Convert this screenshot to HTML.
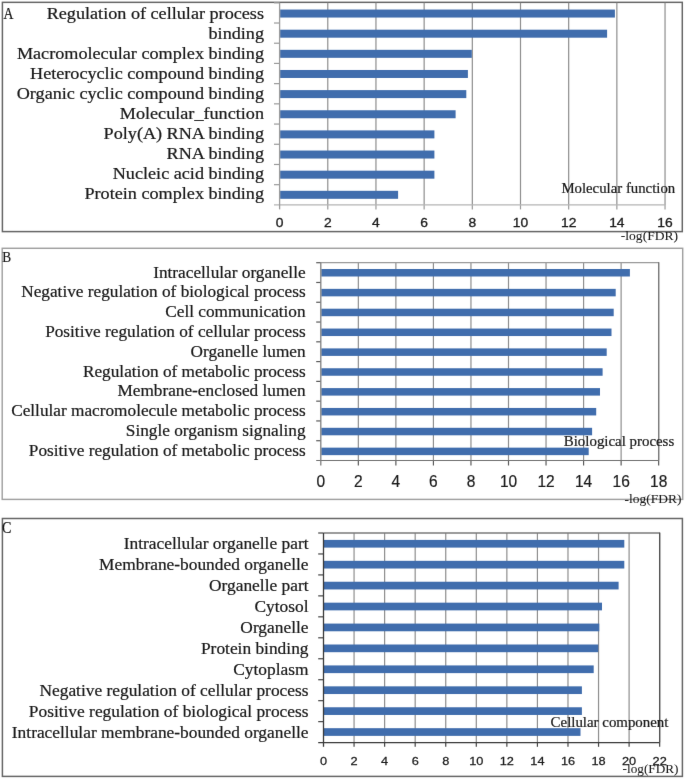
<!DOCTYPE html>
<html><head><meta charset="utf-8"><style>
html,body{margin:0;padding:0;background:#fff;}
svg{display:block;}
.s{font-family:"Liberation Serif",serif;fill:#1a1a1a;stroke:#1a1a1a;stroke-width:0.22px;}
.n{font-family:"Liberation Sans",sans-serif;fill:#1a1a1a;stroke:#1a1a1a;}
</style></head><body>
<svg width="685" height="779" viewBox="0 0 685 779">
<defs><filter id="bl" filterUnits="userSpaceOnUse" x="0" y="0" width="685" height="779" color-interpolation-filters="sRGB"><feConvolveMatrix order="3" kernelMatrix="0.00276 0.04704 0.00276 0.04704 0.80077 0.04704 0.00276 0.04704 0.00276" edgeMode="none"/></filter></defs>
<g filter="url(#bl)">
<rect width="685" height="779" fill="#fff"/>
<rect x="2.4" y="2.35" width="679.9" height="229.25" fill="none" stroke="#666666" stroke-width="1.5"/>
<line x1="327.78" y1="2.8" x2="327.78" y2="204.9" stroke="#8e8e8e" stroke-width="1.2"/>
<line x1="327.78" y1="204.9" x2="327.78" y2="209.4" stroke="#9a9a9a" stroke-width="1.2"/>
<line x1="375.96" y1="2.8" x2="375.96" y2="204.9" stroke="#8e8e8e" stroke-width="1.2"/>
<line x1="375.96" y1="204.9" x2="375.96" y2="209.4" stroke="#9a9a9a" stroke-width="1.2"/>
<line x1="424.14" y1="2.8" x2="424.14" y2="204.9" stroke="#8e8e8e" stroke-width="1.2"/>
<line x1="424.14" y1="204.9" x2="424.14" y2="209.4" stroke="#9a9a9a" stroke-width="1.2"/>
<line x1="472.32" y1="2.8" x2="472.32" y2="204.9" stroke="#8e8e8e" stroke-width="1.2"/>
<line x1="472.32" y1="204.9" x2="472.32" y2="209.4" stroke="#9a9a9a" stroke-width="1.2"/>
<line x1="520.5" y1="2.8" x2="520.5" y2="204.9" stroke="#8e8e8e" stroke-width="1.2"/>
<line x1="520.5" y1="204.9" x2="520.5" y2="209.4" stroke="#9a9a9a" stroke-width="1.2"/>
<line x1="568.68" y1="2.8" x2="568.68" y2="204.9" stroke="#8e8e8e" stroke-width="1.2"/>
<line x1="568.68" y1="204.9" x2="568.68" y2="209.4" stroke="#9a9a9a" stroke-width="1.2"/>
<line x1="616.86" y1="2.8" x2="616.86" y2="204.9" stroke="#8e8e8e" stroke-width="1.2"/>
<line x1="616.86" y1="204.9" x2="616.86" y2="209.4" stroke="#9a9a9a" stroke-width="1.2"/>
<line x1="665.04" y1="2.8" x2="665.04" y2="204.9" stroke="#8e8e8e" stroke-width="1.2"/>
<line x1="665.04" y1="204.9" x2="665.04" y2="209.4" stroke="#9a9a9a" stroke-width="1.2"/>
<line x1="274" y1="204.9" x2="665.04" y2="204.9" stroke="#b4b4b4" stroke-width="1.2"/>
<line x1="274" y1="2.8" x2="279.6" y2="2.8" stroke="#9a9a9a" stroke-width="1.2"/>
<line x1="274" y1="23.01" x2="279.6" y2="23.01" stroke="#9a9a9a" stroke-width="1.2"/>
<line x1="274" y1="43.22" x2="279.6" y2="43.22" stroke="#9a9a9a" stroke-width="1.2"/>
<line x1="274" y1="63.43" x2="279.6" y2="63.43" stroke="#9a9a9a" stroke-width="1.2"/>
<line x1="274" y1="83.64" x2="279.6" y2="83.64" stroke="#9a9a9a" stroke-width="1.2"/>
<line x1="274" y1="103.85" x2="279.6" y2="103.85" stroke="#9a9a9a" stroke-width="1.2"/>
<line x1="274" y1="124.06" x2="279.6" y2="124.06" stroke="#9a9a9a" stroke-width="1.2"/>
<line x1="274" y1="144.27" x2="279.6" y2="144.27" stroke="#9a9a9a" stroke-width="1.2"/>
<line x1="274" y1="164.48" x2="279.6" y2="164.48" stroke="#9a9a9a" stroke-width="1.2"/>
<line x1="274" y1="184.69" x2="279.6" y2="184.69" stroke="#9a9a9a" stroke-width="1.2"/>
<rect x="280.1" y="9.55" width="334.8" height="8" fill="#406DAD"/>
<rect x="280.1" y="29.69" width="327" height="8" fill="#406DAD"/>
<rect x="280.1" y="49.83" width="191.7" height="8" fill="#406DAD"/>
<rect x="280.1" y="69.97" width="187.8" height="8" fill="#406DAD"/>
<rect x="280.1" y="90.11" width="186.2" height="8" fill="#406DAD"/>
<rect x="280.1" y="110.25" width="175.5" height="8" fill="#406DAD"/>
<rect x="280.1" y="130.39" width="154.3" height="8" fill="#406DAD"/>
<rect x="280.1" y="150.53" width="154.3" height="8" fill="#406DAD"/>
<rect x="280.1" y="170.67" width="154.3" height="8" fill="#406DAD"/>
<rect x="280.1" y="190.81" width="118" height="8" fill="#406DAD"/>
<line x1="279.6" y1="2.8" x2="279.6" y2="209.4" stroke="#9c9c9c" stroke-width="1.3"/>
<text transform="translate(264,18.6) scale(1.1355,1)" text-anchor="end" class="s" font-size="16">Regulation of cellular process</text>
<text transform="translate(264,38.68) scale(1.1355,1)" text-anchor="end" class="s" font-size="16">binding</text>
<text transform="translate(264,58.76) scale(1.1355,1)" text-anchor="end" class="s" font-size="16">Macromolecular complex binding</text>
<text transform="translate(264,78.84) scale(1.1355,1)" text-anchor="end" class="s" font-size="16">Heterocyclic compound binding</text>
<text transform="translate(264,98.92) scale(1.1355,1)" text-anchor="end" class="s" font-size="16">Organic cyclic compound binding</text>
<text transform="translate(264,119) scale(1.1355,1)" text-anchor="end" class="s" font-size="16">Molecular_function</text>
<text transform="translate(264,139.08) scale(1.1355,1)" text-anchor="end" class="s" font-size="16">Poly(A) RNA binding</text>
<text transform="translate(264,159.16) scale(1.1355,1)" text-anchor="end" class="s" font-size="16">RNA binding</text>
<text transform="translate(264,179.24) scale(1.1355,1)" text-anchor="end" class="s" font-size="16">Nucleic acid binding</text>
<text transform="translate(264,199.32) scale(1.1355,1)" text-anchor="end" class="s" font-size="16">Protein complex binding</text>
<text transform="translate(279.6,227.2) scale(1.1,1)" text-anchor="middle" class="n" font-size="12.6" stroke-width="0.3">0</text>
<text transform="translate(327.78,227.2) scale(1.1,1)" text-anchor="middle" class="n" font-size="12.6" stroke-width="0.3">2</text>
<text transform="translate(375.96,227.2) scale(1.1,1)" text-anchor="middle" class="n" font-size="12.6" stroke-width="0.3">4</text>
<text transform="translate(424.14,227.2) scale(1.1,1)" text-anchor="middle" class="n" font-size="12.6" stroke-width="0.3">6</text>
<text transform="translate(472.32,227.2) scale(1.1,1)" text-anchor="middle" class="n" font-size="12.6" stroke-width="0.3">8</text>
<text transform="translate(520.5,227.2) scale(1.1,1)" text-anchor="middle" class="n" font-size="12.6" stroke-width="0.3">10</text>
<text transform="translate(568.68,227.2) scale(1.1,1)" text-anchor="middle" class="n" font-size="12.6" stroke-width="0.3">12</text>
<text transform="translate(616.86,227.2) scale(1.1,1)" text-anchor="middle" class="n" font-size="12.6" stroke-width="0.3">14</text>
<text transform="translate(665.04,227.2) scale(1.1,1)" text-anchor="middle" class="n" font-size="12.6" stroke-width="0.3">16</text>
<text x="561.4" y="192.6" class="s" font-size="14.8">Molecular function</text>
<text transform="translate(620.8,239.8) scale(1.13,1)" class="s" font-size="12" style="stroke-width:0.06px">-log(FDR)</text>
<text transform="translate(3.4,18.6) scale(0.86,1)" class="s" font-size="16" stroke="#1a1a1a" stroke-width="0.25">A</text>
<rect x="2.2" y="248.3" width="680.5" height="251.1" fill="none" stroke="#a0a0a0" stroke-width="1.45"/>
<line x1="358.34" y1="262.7" x2="358.34" y2="460.5" stroke="#8e8e8e" stroke-width="1.2"/>
<line x1="358.34" y1="460.5" x2="358.34" y2="465.5" stroke="#5a5a5a" stroke-width="1.2"/>
<line x1="395.88" y1="262.7" x2="395.88" y2="460.5" stroke="#8e8e8e" stroke-width="1.2"/>
<line x1="395.88" y1="460.5" x2="395.88" y2="465.5" stroke="#5a5a5a" stroke-width="1.2"/>
<line x1="433.42" y1="262.7" x2="433.42" y2="460.5" stroke="#8e8e8e" stroke-width="1.2"/>
<line x1="433.42" y1="460.5" x2="433.42" y2="465.5" stroke="#5a5a5a" stroke-width="1.2"/>
<line x1="470.96" y1="262.7" x2="470.96" y2="460.5" stroke="#8e8e8e" stroke-width="1.2"/>
<line x1="470.96" y1="460.5" x2="470.96" y2="465.5" stroke="#5a5a5a" stroke-width="1.2"/>
<line x1="508.5" y1="262.7" x2="508.5" y2="460.5" stroke="#8e8e8e" stroke-width="1.2"/>
<line x1="508.5" y1="460.5" x2="508.5" y2="465.5" stroke="#5a5a5a" stroke-width="1.2"/>
<line x1="546.04" y1="262.7" x2="546.04" y2="460.5" stroke="#8e8e8e" stroke-width="1.2"/>
<line x1="546.04" y1="460.5" x2="546.04" y2="465.5" stroke="#5a5a5a" stroke-width="1.2"/>
<line x1="583.58" y1="262.7" x2="583.58" y2="460.5" stroke="#8e8e8e" stroke-width="1.2"/>
<line x1="583.58" y1="460.5" x2="583.58" y2="465.5" stroke="#5a5a5a" stroke-width="1.2"/>
<line x1="621.12" y1="262.7" x2="621.12" y2="460.5" stroke="#8e8e8e" stroke-width="1.2"/>
<line x1="621.12" y1="460.5" x2="621.12" y2="465.5" stroke="#5a5a5a" stroke-width="1.2"/>
<line x1="658.66" y1="262.7" x2="658.66" y2="460.5" stroke="#8e8e8e" stroke-width="1.2"/>
<line x1="658.66" y1="460.5" x2="658.66" y2="465.5" stroke="#5a5a5a" stroke-width="1.2"/>
<line x1="320.8" y1="262.7" x2="658.66" y2="262.7" stroke="#9a9a9a" stroke-width="1.3"/>
<line x1="658.66" y1="262.1" x2="658.66" y2="460.5" stroke="#7a7a7a" stroke-width="1.3"/>
<line x1="316.2" y1="460.5" x2="658.66" y2="460.5" stroke="#707070" stroke-width="1.2"/>
<line x1="316.2" y1="262.7" x2="320.8" y2="262.7" stroke="#5a5a5a" stroke-width="1.2"/>
<line x1="316.2" y1="282.48" x2="320.8" y2="282.48" stroke="#5a5a5a" stroke-width="1.2"/>
<line x1="316.2" y1="302.26" x2="320.8" y2="302.26" stroke="#5a5a5a" stroke-width="1.2"/>
<line x1="316.2" y1="322.04" x2="320.8" y2="322.04" stroke="#5a5a5a" stroke-width="1.2"/>
<line x1="316.2" y1="341.82" x2="320.8" y2="341.82" stroke="#5a5a5a" stroke-width="1.2"/>
<line x1="316.2" y1="361.6" x2="320.8" y2="361.6" stroke="#5a5a5a" stroke-width="1.2"/>
<line x1="316.2" y1="381.38" x2="320.8" y2="381.38" stroke="#5a5a5a" stroke-width="1.2"/>
<line x1="316.2" y1="401.16" x2="320.8" y2="401.16" stroke="#5a5a5a" stroke-width="1.2"/>
<line x1="316.2" y1="420.94" x2="320.8" y2="420.94" stroke="#5a5a5a" stroke-width="1.2"/>
<line x1="316.2" y1="440.72" x2="320.8" y2="440.72" stroke="#5a5a5a" stroke-width="1.2"/>
<rect x="321.3" y="269" width="308.6" height="7.5" fill="#406DAD"/>
<rect x="321.3" y="288.85" width="294.4" height="7.5" fill="#406DAD"/>
<rect x="321.3" y="308.7" width="292.4" height="7.5" fill="#406DAD"/>
<rect x="321.3" y="328.55" width="290.2" height="7.5" fill="#406DAD"/>
<rect x="321.3" y="348.4" width="285.4" height="7.5" fill="#406DAD"/>
<rect x="321.3" y="368.25" width="281.3" height="7.5" fill="#406DAD"/>
<rect x="321.3" y="388.1" width="278.7" height="7.5" fill="#406DAD"/>
<rect x="321.3" y="407.95" width="274.9" height="7.5" fill="#406DAD"/>
<rect x="321.3" y="427.8" width="270.8" height="7.5" fill="#406DAD"/>
<rect x="321.3" y="447.65" width="267.4" height="7.5" fill="#406DAD"/>
<line x1="320.8" y1="262.7" x2="320.8" y2="465.5" stroke="#7e7e7e" stroke-width="1.3"/>
<text transform="translate(305.6,277.7) scale(1.0785,1)" text-anchor="end" class="s" font-size="16">Intracellular organelle</text>
<text transform="translate(305.6,297.46) scale(1.0785,1)" text-anchor="end" class="s" font-size="16">Negative regulation of biological process</text>
<text transform="translate(305.6,317.22) scale(1.0785,1)" text-anchor="end" class="s" font-size="16">Cell communication</text>
<text transform="translate(305.6,336.98) scale(1.0785,1)" text-anchor="end" class="s" font-size="16">Positive regulation of cellular process</text>
<text transform="translate(305.6,356.74) scale(1.0785,1)" text-anchor="end" class="s" font-size="16">Organelle lumen</text>
<text transform="translate(305.6,376.5) scale(1.0785,1)" text-anchor="end" class="s" font-size="16">Regulation of metabolic process</text>
<text transform="translate(305.6,396.26) scale(1.0785,1)" text-anchor="end" class="s" font-size="16">Membrane-enclosed lumen</text>
<text transform="translate(305.6,416.02) scale(1.0785,1)" text-anchor="end" class="s" font-size="16">Cellular macromolecule metabolic process</text>
<text transform="translate(305.6,435.78) scale(1.0785,1)" text-anchor="end" class="s" font-size="16">Single organism signaling</text>
<text transform="translate(305.6,455.54) scale(1.0785,1)" text-anchor="end" class="s" font-size="16">Positive regulation of metabolic process</text>
<text transform="translate(320.8,486.5) scale(0.975,1)" text-anchor="middle" class="n" font-size="15.9" stroke-width="0.2">0</text>
<text transform="translate(358.34,486.5) scale(0.975,1)" text-anchor="middle" class="n" font-size="15.9" stroke-width="0.2">2</text>
<text transform="translate(395.88,486.5) scale(0.975,1)" text-anchor="middle" class="n" font-size="15.9" stroke-width="0.2">4</text>
<text transform="translate(433.42,486.5) scale(0.975,1)" text-anchor="middle" class="n" font-size="15.9" stroke-width="0.2">6</text>
<text transform="translate(470.96,486.5) scale(0.975,1)" text-anchor="middle" class="n" font-size="15.9" stroke-width="0.2">8</text>
<text transform="translate(508.5,486.5) scale(0.975,1)" text-anchor="middle" class="n" font-size="15.9" stroke-width="0.2">10</text>
<text transform="translate(546.04,486.5) scale(0.975,1)" text-anchor="middle" class="n" font-size="15.9" stroke-width="0.2">12</text>
<text transform="translate(583.58,486.5) scale(0.975,1)" text-anchor="middle" class="n" font-size="15.9" stroke-width="0.2">14</text>
<text transform="translate(621.12,486.5) scale(0.975,1)" text-anchor="middle" class="n" font-size="15.9" stroke-width="0.2">16</text>
<text transform="translate(658.66,486.5) scale(0.975,1)" text-anchor="middle" class="n" font-size="15.9" stroke-width="0.2">18</text>
<text x="563.8" y="445.7" class="s" font-size="14.9">Biological process</text>
<text transform="translate(624.6,502.8) scale(1.035,1)" class="s" font-size="13" style="stroke-width:0.06px">-log(FDR)</text>
<text transform="translate(2.3,262) scale(0.86,1)" class="s" font-size="15.5" stroke="#1a1a1a" stroke-width="0.25">B</text>
<rect x="2.4" y="518.5" width="680" height="257.9" fill="none" stroke="#666666" stroke-width="1.5"/>
<line x1="354.06" y1="533" x2="354.06" y2="742.6" stroke="#8e8e8e" stroke-width="1.2"/>
<line x1="354.06" y1="742.6" x2="354.06" y2="746.8" stroke="#444444" stroke-width="1.2"/>
<line x1="384.62" y1="533" x2="384.62" y2="742.6" stroke="#8e8e8e" stroke-width="1.2"/>
<line x1="384.62" y1="742.6" x2="384.62" y2="746.8" stroke="#444444" stroke-width="1.2"/>
<line x1="415.18" y1="533" x2="415.18" y2="742.6" stroke="#8e8e8e" stroke-width="1.2"/>
<line x1="415.18" y1="742.6" x2="415.18" y2="746.8" stroke="#444444" stroke-width="1.2"/>
<line x1="445.74" y1="533" x2="445.74" y2="742.6" stroke="#8e8e8e" stroke-width="1.2"/>
<line x1="445.74" y1="742.6" x2="445.74" y2="746.8" stroke="#444444" stroke-width="1.2"/>
<line x1="476.3" y1="533" x2="476.3" y2="742.6" stroke="#8e8e8e" stroke-width="1.2"/>
<line x1="476.3" y1="742.6" x2="476.3" y2="746.8" stroke="#444444" stroke-width="1.2"/>
<line x1="506.86" y1="533" x2="506.86" y2="742.6" stroke="#8e8e8e" stroke-width="1.2"/>
<line x1="506.86" y1="742.6" x2="506.86" y2="746.8" stroke="#444444" stroke-width="1.2"/>
<line x1="537.42" y1="533" x2="537.42" y2="742.6" stroke="#8e8e8e" stroke-width="1.2"/>
<line x1="537.42" y1="742.6" x2="537.42" y2="746.8" stroke="#444444" stroke-width="1.2"/>
<line x1="567.98" y1="533" x2="567.98" y2="742.6" stroke="#8e8e8e" stroke-width="1.2"/>
<line x1="567.98" y1="742.6" x2="567.98" y2="746.8" stroke="#444444" stroke-width="1.2"/>
<line x1="598.54" y1="533" x2="598.54" y2="742.6" stroke="#8e8e8e" stroke-width="1.2"/>
<line x1="598.54" y1="742.6" x2="598.54" y2="746.8" stroke="#444444" stroke-width="1.2"/>
<line x1="629.1" y1="533" x2="629.1" y2="742.6" stroke="#8e8e8e" stroke-width="1.2"/>
<line x1="629.1" y1="742.6" x2="629.1" y2="746.8" stroke="#444444" stroke-width="1.2"/>
<line x1="659.66" y1="533" x2="659.66" y2="742.6" stroke="#8e8e8e" stroke-width="1.2"/>
<line x1="659.66" y1="742.6" x2="659.66" y2="746.8" stroke="#444444" stroke-width="1.2"/>
<line x1="323.5" y1="533" x2="659.66" y2="533" stroke="#7a7a7a" stroke-width="1.3"/>
<line x1="659.66" y1="532.4" x2="659.66" y2="742.6" stroke="#505050" stroke-width="1.3"/>
<line x1="318.2" y1="742.6" x2="659.66" y2="742.6" stroke="#3a3a3a" stroke-width="1.2"/>
<line x1="318.2" y1="533" x2="323.5" y2="533" stroke="#444444" stroke-width="1.2"/>
<line x1="318.2" y1="553.96" x2="323.5" y2="553.96" stroke="#444444" stroke-width="1.2"/>
<line x1="318.2" y1="574.92" x2="323.5" y2="574.92" stroke="#444444" stroke-width="1.2"/>
<line x1="318.2" y1="595.88" x2="323.5" y2="595.88" stroke="#444444" stroke-width="1.2"/>
<line x1="318.2" y1="616.84" x2="323.5" y2="616.84" stroke="#444444" stroke-width="1.2"/>
<line x1="318.2" y1="637.8" x2="323.5" y2="637.8" stroke="#444444" stroke-width="1.2"/>
<line x1="318.2" y1="658.76" x2="323.5" y2="658.76" stroke="#444444" stroke-width="1.2"/>
<line x1="318.2" y1="679.72" x2="323.5" y2="679.72" stroke="#444444" stroke-width="1.2"/>
<line x1="318.2" y1="700.68" x2="323.5" y2="700.68" stroke="#444444" stroke-width="1.2"/>
<line x1="318.2" y1="721.64" x2="323.5" y2="721.64" stroke="#444444" stroke-width="1.2"/>
<rect x="324" y="539.9" width="300.3" height="7.7" fill="#406DAD"/>
<rect x="324" y="560.82" width="300.3" height="7.7" fill="#406DAD"/>
<rect x="324" y="581.74" width="294.6" height="7.7" fill="#406DAD"/>
<rect x="324" y="602.66" width="278" height="7.7" fill="#406DAD"/>
<rect x="324" y="623.58" width="275.3" height="7.7" fill="#406DAD"/>
<rect x="324" y="644.5" width="274.2" height="7.7" fill="#406DAD"/>
<rect x="324" y="665.42" width="269.7" height="7.7" fill="#406DAD"/>
<rect x="324" y="686.34" width="257.9" height="7.7" fill="#406DAD"/>
<rect x="324" y="707.26" width="257.9" height="7.7" fill="#406DAD"/>
<rect x="324" y="728.18" width="256.5" height="7.7" fill="#406DAD"/>
<line x1="323.5" y1="533" x2="323.5" y2="746.8" stroke="#3a3a3a" stroke-width="1.3"/>
<text transform="translate(308.5,548.7) scale(1.0864,1)" text-anchor="end" class="s" font-size="16">Intracellular organelle part</text>
<text transform="translate(308.5,569.7) scale(1.0864,1)" text-anchor="end" class="s" font-size="16">Membrane-bounded organelle</text>
<text transform="translate(308.5,590.7) scale(1.0864,1)" text-anchor="end" class="s" font-size="16">Organelle part</text>
<text transform="translate(308.5,611.7) scale(1.0864,1)" text-anchor="end" class="s" font-size="16">Cytosol</text>
<text transform="translate(308.5,632.7) scale(1.0864,1)" text-anchor="end" class="s" font-size="16">Organelle</text>
<text transform="translate(308.5,653.7) scale(1.0864,1)" text-anchor="end" class="s" font-size="16">Protein binding</text>
<text transform="translate(308.5,674.7) scale(1.0864,1)" text-anchor="end" class="s" font-size="16">Cytoplasm</text>
<text transform="translate(308.5,695.7) scale(1.0864,1)" text-anchor="end" class="s" font-size="16">Negative regulation of cellular process</text>
<text transform="translate(308.5,716.7) scale(1.0864,1)" text-anchor="end" class="s" font-size="16">Positive regulation of biological process</text>
<text transform="translate(308.5,737.7) scale(1.0864,1)" text-anchor="end" class="s" font-size="16">Intracellular membrane-bounded organelle</text>
<text transform="translate(323.5,764.6) scale(1.08,1)" text-anchor="middle" class="n" font-size="11.8" stroke-width="0.25">0</text>
<text transform="translate(354.06,764.6) scale(1.08,1)" text-anchor="middle" class="n" font-size="11.8" stroke-width="0.25">2</text>
<text transform="translate(384.62,764.6) scale(1.08,1)" text-anchor="middle" class="n" font-size="11.8" stroke-width="0.25">4</text>
<text transform="translate(415.18,764.6) scale(1.08,1)" text-anchor="middle" class="n" font-size="11.8" stroke-width="0.25">6</text>
<text transform="translate(445.74,764.6) scale(1.08,1)" text-anchor="middle" class="n" font-size="11.8" stroke-width="0.25">8</text>
<text transform="translate(476.3,764.6) scale(1.08,1)" text-anchor="middle" class="n" font-size="11.8" stroke-width="0.25">10</text>
<text transform="translate(506.86,764.6) scale(1.08,1)" text-anchor="middle" class="n" font-size="11.8" stroke-width="0.25">12</text>
<text transform="translate(537.42,764.6) scale(1.08,1)" text-anchor="middle" class="n" font-size="11.8" stroke-width="0.25">14</text>
<text transform="translate(567.98,764.6) scale(1.08,1)" text-anchor="middle" class="n" font-size="11.8" stroke-width="0.25">16</text>
<text transform="translate(598.54,764.6) scale(1.08,1)" text-anchor="middle" class="n" font-size="11.8" stroke-width="0.25">18</text>
<text transform="translate(629.1,764.6) scale(1.08,1)" text-anchor="middle" class="n" font-size="11.8" stroke-width="0.25">20</text>
<text transform="translate(659.66,764.6) scale(1.08,1)" text-anchor="middle" class="n" font-size="11.8" stroke-width="0.25">22</text>
<text x="550.6" y="727" class="s" font-size="14.9">Cellular component</text>
<text transform="translate(622.6,772.8) scale(1.06,1)" class="s" font-size="12.5" style="stroke-width:0.06px">-log(FDR)</text>
<text transform="translate(1.9,532.8) scale(0.88,1)" class="s" font-size="16" stroke="#1a1a1a" stroke-width="0.25">C</text>
</g>
</svg>
</body></html>
